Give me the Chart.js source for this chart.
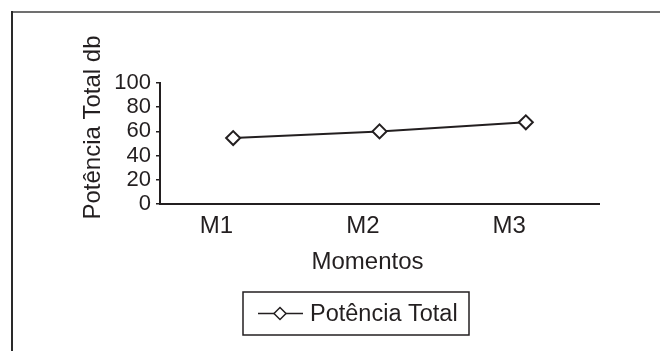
<!DOCTYPE html>
<html>
<head>
<meta charset="utf-8">
<script src="https://cdn.jsdelivr.net/npm/chart.js@4/dist/chart.umd.min.js"></script>
<style>
  html, body { margin: 0; padding: 0; background: #ffffff; }
  canvas { display: block; }
</style>
</head>
<body>
<canvas id="c" width="660" height="351"></canvas>
<script>
// Categories and values of the single series
const momentos = ['M1', 'M2', 'M3'];
const potenciaTotal = [54.5, 60, 67.5];
const yTicks = [0, 20, 40, 60, 80, 100];
const seriesLabel = 'Potência Total';
const xTitle = 'Momentos';
const yTitle = 'Potência Total db';

const ink = '#231f20';
const fontFamily = 'Arial, "Liberation Sans", Helvetica, sans-serif';

// Frame, axis titles and a boxed legend drawn around the plot
const decorations = {
  id: 'decorations',
  beforeDraw(chart) {
    const ctx = chart.ctx;
    ctx.save();
    ctx.fillStyle = '#ffffff';
    ctx.fillRect(0, 0, chart.width, chart.height);
    ctx.fillStyle = '#707070';
    ctx.fillRect(12, 11, chart.width - 12, 2);
    ctx.fillStyle = '#2a2a2a';
    ctx.fillRect(11, 11, 2, chart.height - 11);
    ctx.restore();
  },
  afterDraw(chart) {
    const ctx = chart.ctx;
    const area = chart.chartArea;
    ctx.save();
    ctx.fillStyle = ink;
    ctx.textAlign = 'center';
    ctx.textBaseline = 'middle';

    // x title
    ctx.font = '24px ' + fontFamily;
    ctx.fillText(xTitle, (area.left + area.right) / 2 - 12, area.bottom + 58);

    // y title
    ctx.save();
    ctx.translate(area.left - 67, (area.top + area.bottom) / 2 - 16);
    ctx.rotate(-Math.PI / 2);
    ctx.fillText(yTitle, 0, 0);
    ctx.restore();

    // legend
    const ds = chart.data.datasets[0];
    const bx = 243, by = 292, bw = 226, bh = 43;
    ctx.strokeStyle = ink;
    ctx.lineWidth = 1.5;
    ctx.strokeRect(bx, by, bw, bh);
    const cy = by + bh / 2;
    ctx.strokeStyle = ds.borderColor;
    ctx.lineWidth = 1.5;
    ctx.beginPath();
    ctx.moveTo(bx + 15, cy);
    ctx.lineTo(bx + 60, cy);
    ctx.stroke();
    ctx.fillStyle = '#ffffff';
    ctx.beginPath();
    const px = bx + 37, r = 6;
    ctx.moveTo(px, cy - r);
    ctx.lineTo(px + r, cy);
    ctx.lineTo(px, cy + r);
    ctx.lineTo(px - r, cy);
    ctx.closePath();
    ctx.fill();
    ctx.stroke();
    ctx.fillStyle = ink;
    ctx.textAlign = 'left';
    ctx.font = '23.5px ' + fontFamily;
    ctx.fillText(ds.label, bx + 67, cy + 1);
    ctx.restore();
  }
};

new Chart(document.getElementById('c'), {
  type: 'line',
  data: {
    labels: momentos,
    datasets: [{
      label: seriesLabel,
      data: potenciaTotal,
      borderColor: ink,
      borderWidth: 2,
      backgroundColor: '#ffffff',
      pointStyle: 'rectRot',
      pointRadius: 7,
      pointBorderWidth: 2,
      pointBackgroundColor: '#ffffff',
      pointBorderColor: ink,
      tension: 0,
      fill: false
    }]
  },
  options: {
    responsive: false,
    animation: false,
    devicePixelRatio: 1,
    layout: { padding: { left: 0, top: 83, right: 61, bottom: 0 } },
    plugins: {
      legend: { display: false },
      tooltip: { enabled: false }
    },
    scales: {
      x: {
        offset: true,
        grid: { display: false, drawTicks: false },
        border: { display: true, color: ink, width: 2 },
        ticks: {
          align: 'end',
          padding: 8,
          autoSkip: false,
          color: ink,
          font: { family: fontFamily, size: 24 }
        },
        afterFit(scale) { scale.height = 147; }
      },
      y: {
        min: 0,
        max: 100,
        afterBuildTicks(scale) { scale.ticks = yTicks.map(v => ({ value: v })); },
        grid: {
          drawOnChartArea: false,
          drawTicks: true,
          tickLength: 4,
          color: ink,
          lineWidth: 1.5
        },
        border: { display: true, color: ink, width: 2 },
        ticks: {
          padding: 5,
          autoSkip: false,
          color: ink,
          font: { family: fontFamily, size: 22, lineHeight: 1 }
        },
        afterFit(scale) { scale.width = 160; }
      }
    }
  },
  plugins: [decorations]
});
</script>
</body>
</html>
